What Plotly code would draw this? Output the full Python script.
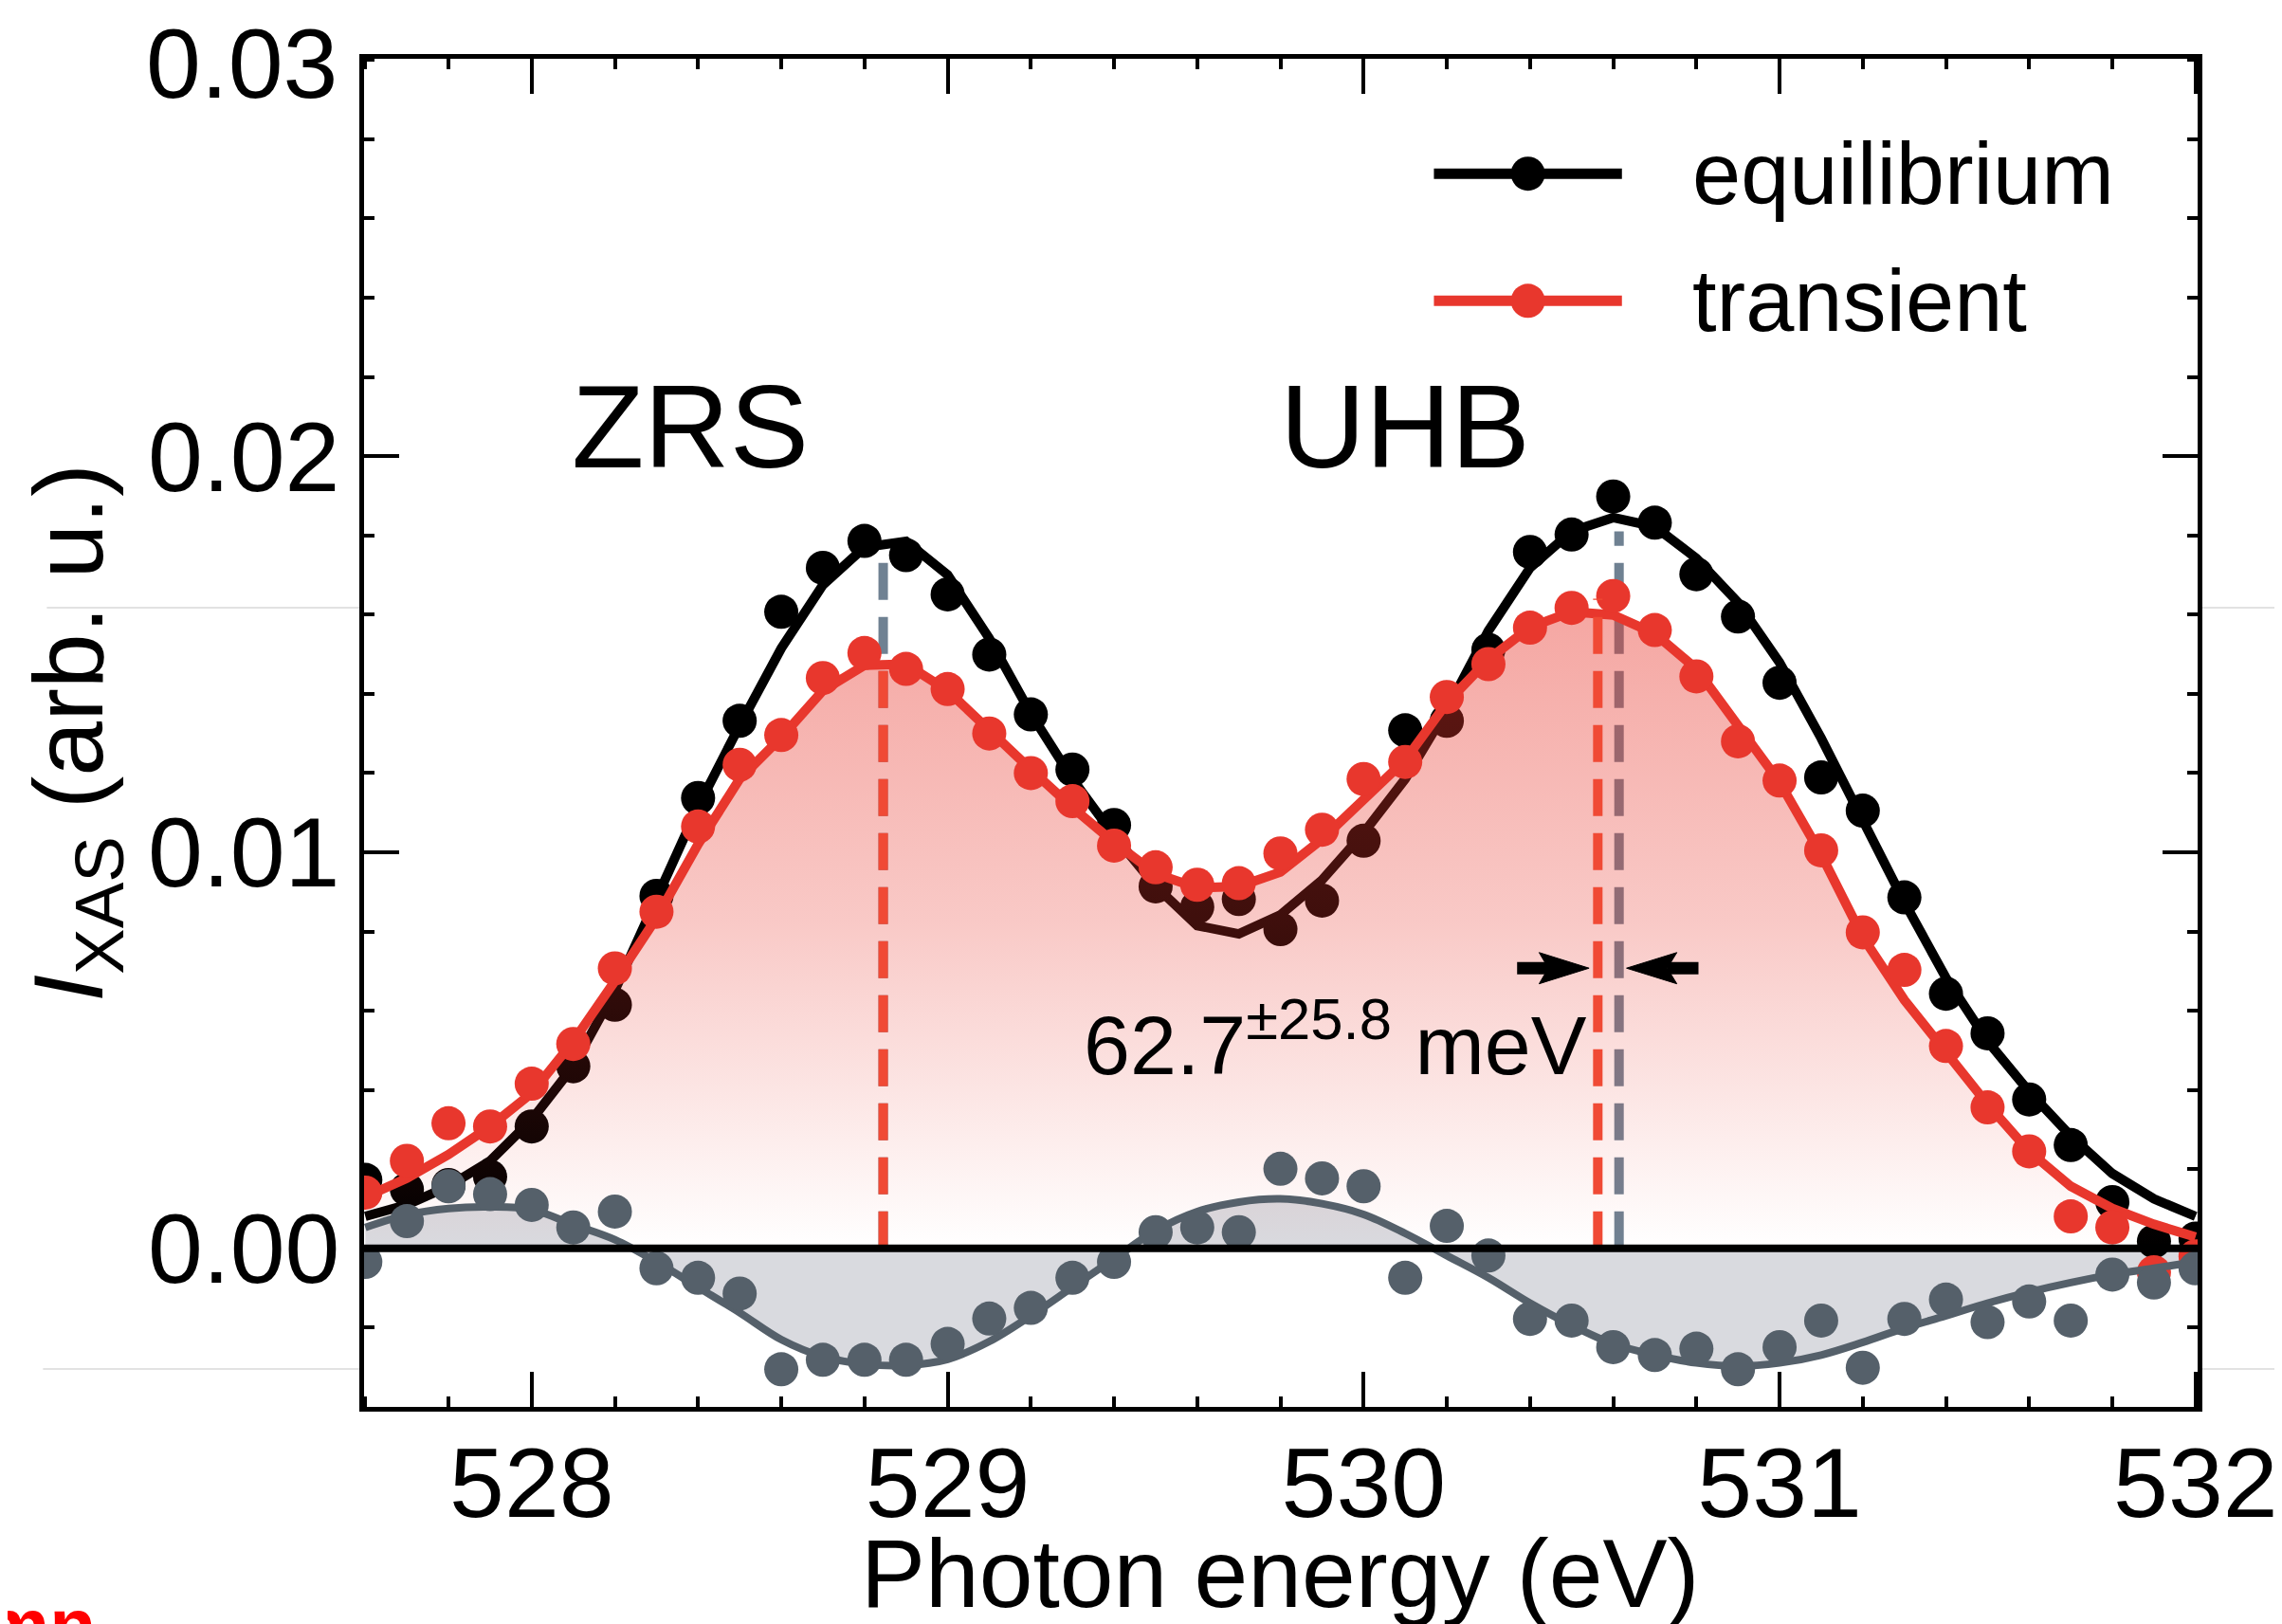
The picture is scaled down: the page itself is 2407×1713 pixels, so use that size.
import plotly.graph_objects as go

# ---------------- data ----------------
energy = [527.6, 527.7, 527.8, 527.9, 528.0, 528.1, 528.2, 528.3, 528.4, 528.5,
          528.6, 528.7, 528.8, 528.9, 529.0, 529.1, 529.2, 529.3, 529.4, 529.5,
          529.6, 529.7, 529.8, 529.9, 530.0, 530.1, 530.2, 530.3, 530.4, 530.5,
          530.6, 530.7, 530.8, 530.9, 531.0, 531.1, 531.2, 531.3, 531.4, 531.5,
          531.6, 531.7, 531.8, 531.9, 532.0]

eq_data = [0.00173, 0.00149, 0.00160, 0.00181, 0.00308, 0.00460, 0.00615, 0.00890, 0.01137, 0.01332,
           0.01607, 0.01718, 0.01786, 0.01750, 0.01651, 0.01499, 0.01348, 0.01209, 0.01069, 0.00914,
           0.00862, 0.00882, 0.00806, 0.00878, 0.01029, 0.01308, 0.01332, 0.01511, 0.01758, 0.01802,
           0.01898, 0.01832, 0.01702, 0.01595, 0.01428, 0.01189, 0.01105, 0.00886, 0.00643, 0.00543,
           0.00376, 0.00261, 0.00117, 0.00018, 0.00025]

tr_data = [0.00141, 0.00221, 0.00316, 0.00308, 0.00416, 0.00516, 0.00707, 0.00850, 0.01065, 0.01221,
           0.01296, 0.01440, 0.01503, 0.01463, 0.01412, 0.01300, 0.01200, 0.01129, 0.01017, 0.00962,
           0.00918, 0.00922, 0.00997, 0.01057, 0.01185, 0.01228, 0.01392, 0.01475, 0.01567, 0.01617,
           0.01647, 0.01561, 0.01444, 0.01280, 0.01181, 0.01005, 0.00798, 0.00703, 0.00511, 0.00356,
           0.00245, 0.00081, 0.00053, -0.00060, -0.00020]

diff_data = [-0.00034, 0.00069, 0.00157, 0.00137, 0.00110, 0.00053, 0.00093, -0.00050, -0.00074, -0.00114,
             -0.00305, -0.00281, -0.00281, -0.00281, -0.00241, -0.00177, -0.00150, -0.00074, -0.00034, 0.00041,
             0.00053, 0.00041, 0.00201, 0.00177, 0.00157, -0.00074, 0.00057, -0.00018, -0.00178, -0.00182,
             -0.00249, -0.00269, -0.00253, -0.00305, -0.00249, -0.00182, -0.00301, -0.00178, -0.00129, -0.00186,
             -0.00134, -0.00182, -0.00066, -0.00086, -0.00050]

eq_fit = [0.00081, 0.00110, 0.00157, 0.00221, 0.00325, 0.00460, 0.00651, 0.00890, 0.01115, 0.01320,
          0.01515, 0.01675, 0.01770, 0.01785, 0.01700, 0.01540, 0.01350, 0.01185, 0.01042, 0.00914,
          0.00815, 0.00794, 0.00842, 0.00930, 0.01049, 0.01185, 0.01360, 0.01559, 0.01718, 0.01810,
          0.01845, 0.01822, 0.01742, 0.01631, 0.01479, 0.01288, 0.01081, 0.00874, 0.00683, 0.00523,
          0.00396, 0.00284, 0.00189, 0.00125, 0.00081]

tr_fit = [0.00130, 0.00177, 0.00237, 0.00308, 0.00392, 0.00523, 0.00675, 0.00834, 0.01020, 0.01185,
          0.01290, 0.01408, 0.01472, 0.01475, 0.01408, 0.01305, 0.01209, 0.01113, 0.01025, 0.00946,
          0.00910, 0.00914, 0.00950, 0.01033, 0.01133, 0.01233, 0.01377, 0.01487, 0.01568, 0.01607,
          0.01599, 0.01552, 0.01463, 0.01320, 0.01177, 0.00994, 0.00786, 0.00627, 0.00492, 0.00364,
          0.00245, 0.00157, 0.00101, 0.00061, 0.00029]

diff_fit = [0.00053, 0.00085, 0.00101, 0.00105, 0.00098, 0.00060, 0.00022, -0.00034, -0.00098, -0.00162,
            -0.00230, -0.00273, -0.00292, -0.00295, -0.00280, -0.00235, -0.00170, -0.00098, -0.00026, 0.00045,
            0.00093, 0.00117, 0.00125, 0.00113, 0.00086, 0.00038, -0.00018, -0.00074, -0.00138, -0.00194,
            -0.00241, -0.00269, -0.00289, -0.00297, -0.00289, -0.00269, -0.00237, -0.00201, -0.00170, -0.00138,
            -0.00110, -0.00086, -0.00066, -0.00050, -0.00034]

# peak positions (eV) and heights of the dashed markers
peak_eq_E = [528.845, 530.614]
peak_eq_top = [0.0177, 0.0181]
peak_tr_E = [528.845, 530.563]
peak_tr_top = [0.0149, 0.0164]

xticks = [528, 529, 530, 531, 532]
yticks = [0.0, 0.01, 0.02, 0.03]
ytick_labels = ["0.00", "0.01", "0.02", "0.03"]

# ---------------- styles ----------------
BLACK = "#000000"
RED = "#e8372d"
RED_DASH = "#f04a35"
GRAY = "#55606a"
GRAY_FILL = "#d9dadf"
SLATE = "#6f8192"
FONT = "Liberation Sans, Arial, Helvetica, sans-serif"
MS = 36

fig = go.Figure()

# gray difference fill
fig.add_trace(go.Scatter(x=energy, y=diff_fit, mode="lines", line=dict(width=0, shape="spline"),
                         fill="tozeroy", fillcolor=GRAY_FILL, hoverinfo="skip"))
# equilibrium
fig.add_trace(go.Scatter(x=energy, y=eq_fit, mode="lines", line=dict(color=BLACK, width=10)))
fig.add_trace(go.Scatter(x=energy, y=eq_data, mode="markers",
                         marker=dict(color=BLACK, size=MS, line=dict(width=0))))
# equilibrium peak positions
for e, t in zip(peak_eq_E, peak_eq_top):
    fig.add_trace(go.Scatter(x=[e, e], y=[0, t], mode="lines",
                             line=dict(color=SLATE, width=10, dash="39px,18px")))
# transient gradient fill
fig.add_trace(go.Scatter(
    x=energy, y=tr_fit, mode="lines", line=dict(width=0), fill="tozeroy",
    fillgradient=dict(type="vertical", start=0, stop=0.0165,
                      colorscale=[[0, "rgba(232,55,45,0.0)"], [0.15, "rgba(232,55,45,0.08)"],
                                  [0.5, "rgba(232,55,45,0.27)"], [1, "rgba(232,55,45,0.45)"]]),
    hoverinfo="skip"))
# transient
fig.add_trace(go.Scatter(x=energy, y=tr_fit, mode="lines", line=dict(color=RED, width=10)))
fig.add_trace(go.Scatter(x=energy, y=tr_data, mode="markers",
                         marker=dict(color=RED, size=MS, line=dict(width=0))))
for e, t in zip(peak_tr_E, peak_tr_top):
    fig.add_trace(go.Scatter(x=[e, e], y=[0, t], mode="lines",
                             line=dict(color=RED_DASH, width=10, dash="39px,18px")))
# difference
fig.add_trace(go.Scatter(x=energy, y=diff_fit, mode="lines", line=dict(color=GRAY, width=8, shape="spline")))
fig.add_trace(go.Scatter(x=energy, y=diff_data, mode="markers",
                         marker=dict(color=GRAY, size=MS, line=dict(width=0))))
# zero line
fig.add_trace(go.Scatter(x=[energy[0] - 0.1, energy[-1] + 0.1], y=[0, 0], mode="lines",
                         line=dict(color=BLACK, width=8)))

# ---------------- axes ----------------
axis_common = dict(showline=True, linewidth=4.5, linecolor=BLACK, mirror="ticks",
                   ticks="inside", ticklen=37, tickwidth=4, tickcolor=BLACK,
                   showgrid=False, zeroline=False,
                   tickfont=dict(family=FONT, size=104, color=BLACK))
fig.update_xaxes(range=[527.597, 532.005], tickvals=xticks, ticktext=[str(v) for v in xticks],
                 minor=dict(ticks="inside", ticklen=11, tickwidth=3.5, tickcolor=BLACK, dtick=0.2, tick0=528,
                            showgrid=False),
                 **axis_common)
try:
    fig.update_xaxes(ticklabelstandoff=-14)
except ValueError:
    pass
# the top label (0.03) would be hidden at the div edge, so it is drawn as an annotation below
fig.update_yaxes(range=[-0.004, 0.03003], tickvals=yticks[:-1], ticktext=ytick_labels[:-1],
                 minor=dict(ticks="inside", ticklen=11, tickwidth=3.5, tickcolor=BLACK, dtick=0.002, tick0=0,
                            showgrid=False),
                 title=dict(text="<i>I</i><sub>XAS</sub> (arb. u.)", font=dict(family=FONT, size=104, color=BLACK),
                            standoff=14),
                 **axis_common)

# ---------------- annotations ----------------
annotations = [
    # top y tick label
    dict(x=-0.0134, y=yticks[-1], xref="paper", yref="y", text=ytick_labels[-1], showarrow=False,
         font=dict(family=FONT, size=104, color=BLACK), xanchor="right", yanchor="middle", yshift=-4),
    # x-axis title
    dict(x=0.4995, y=-0.1655, xref="paper", yref="paper", text="Photon energy (eV)", showarrow=False,
         font=dict(family=FONT, size=102, color=BLACK), xanchor="center", yanchor="bottom"),
    dict(x=528.38, y=0.02075, text="ZRS", showarrow=False, font=dict(family=FONT, size=125, color=BLACK),
         xanchor="center", yanchor="middle"),
    dict(x=530.099, y=0.02075, text="UHB", showarrow=False, font=dict(family=FONT, size=125, color=BLACK),
         xanchor="center", yanchor="middle"),
    dict(x=529.322, y=0.00390, text="62.7<sup>±25.8</sup> meV", showarrow=False,
         font=dict(family=FONT, size=88, color=BLACK), xanchor="left", yanchor="bottom"),
    # legend labels
    dict(x=530.785, y=0.02713, text="equilibrium", showarrow=False, font=dict(family=FONT, size=92, color=BLACK),
         xanchor="left", yanchor="middle"),
    dict(x=530.785, y=0.02392, text="transient", showarrow=False, font=dict(family=FONT, size=92, color=BLACK),
         xanchor="left", yanchor="middle"),
    # cropped red text at bottom-left
    dict(x=-0.1452, y=-0.195, xref="paper", yref="paper", text="<b>mn</b>", showarrow=False,
         font=dict(family=FONT, size=80, color="#ff0000"), xanchor="right", yanchor="bottom"),
]

shapes = []

# double arrow pointing at the two UHB peak markers (tail, notch, head base, tip)
arrow_y = 0.007075
arrow_half = 0.000394
arrows = [(530.369, 530.444, 530.422, 530.542), (530.805, 530.730, 530.753, 530.632)]
for tail, notch, base, tip in arrows:
    shapes.append(dict(type="line", xref="x", yref="y", x0=tail, x1=notch, y0=arrow_y, y1=arrow_y,
                       line=dict(color=BLACK, width=13)))
    shapes.append(dict(type="path", xref="x", yref="y",
                       path=f"M {base},{arrow_y + arrow_half} L {tip},{arrow_y} L {base},{arrow_y - arrow_half} "
                            f"L {notch},{arrow_y} Z",
                       fillcolor=BLACK, line=dict(color=BLACK, width=1)))

# legend samples
leg_rows = [(0.02713, BLACK), (0.02392, RED)]
for yv, col in leg_rows:
    shapes.append(dict(type="line", xref="x", yref="y", x0=530.169, x1=530.621, y0=yv, y1=yv,
                       line=dict(color=col, width=11)))
    shapes.append(dict(type="circle", xref="x", yref="y", x0=530.395 - 0.041, x1=530.395 + 0.041,
                       y0=yv - 0.00043, y1=yv + 0.00043, fillcolor=col, line=dict(width=0)))

# faint outline of a neighbouring panel outside the plot area (paper coords)
W, H = 2407, 1713
L, R, T, B = 376, 89, 54, 237
pw, ph = W - L - R, H - T - B


def px(xp):
    return (xp - L) / pw


def py(yp):
    return (H - B - yp) / ph


faint = dict(color="#e2e2e2", width=2)
for (x0, y0, x1, y1) in [(40, 633, 374, 633), (36, 1436, 374, 1436), (2320, 633, 2402, 633),
                         (2320, 1436, 2402, 1436), (2402, 633, 2402, 1436)]:
    shapes.append(dict(type="line", xref="paper", yref="paper", x0=px(x0), x1=px(x1), y0=py(y0), y1=py(y1),
                       line=faint, layer="below"))

fig.update_layout(width=W, height=H, margin=dict(l=L, r=R, t=T, b=B),
                  paper_bgcolor="white", plot_bgcolor="white", showlegend=False,
                  font=dict(family=FONT, color=BLACK, size=104),
                  annotations=annotations, shapes=shapes)

fig.write_html("out.html")
